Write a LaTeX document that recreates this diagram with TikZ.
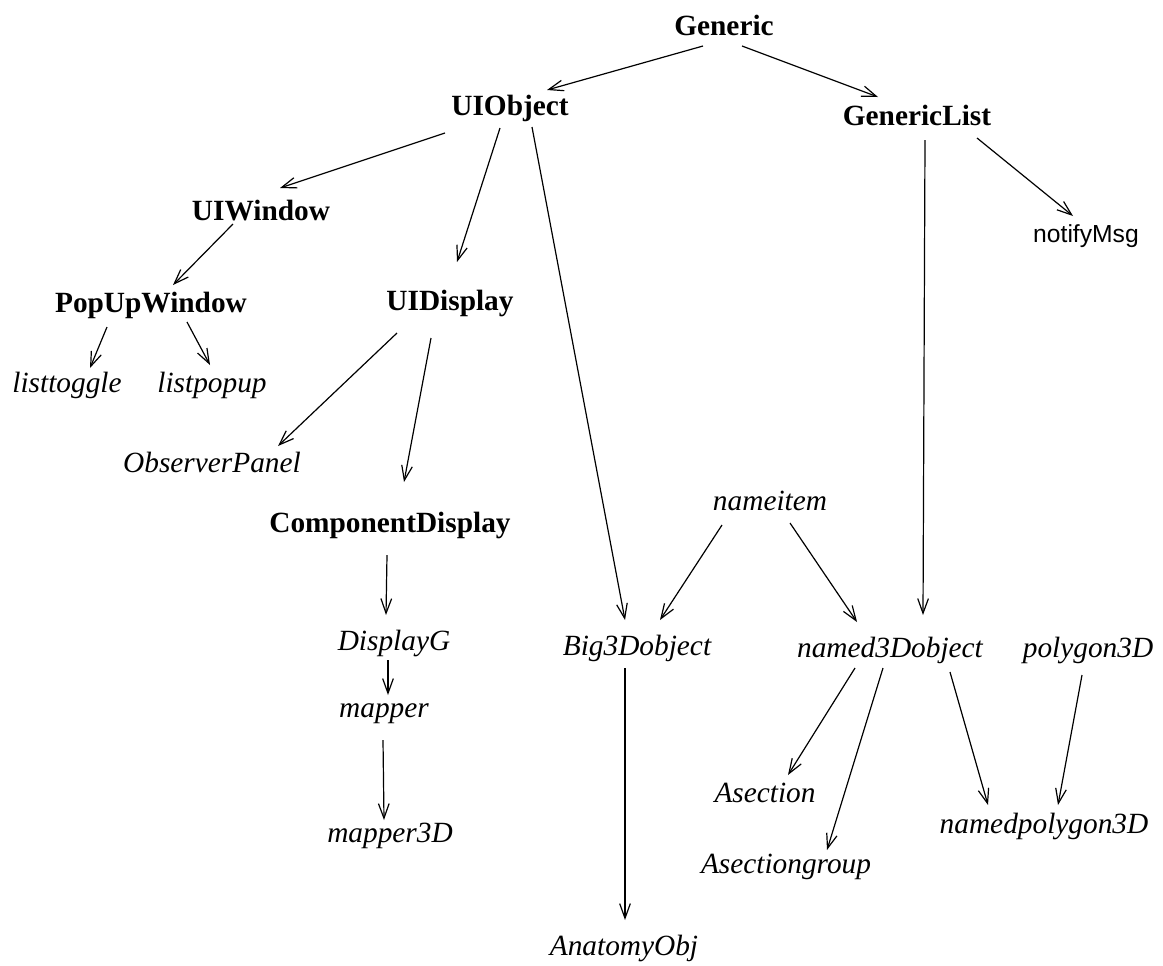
\documentclass[tikz,border=0pt]{standalone}
\usepackage{fontspec}
\setmainfont{Liberation Serif}
\newfontfamily\helv{Liberation Sans}
\usetikzlibrary{arrows.meta,calc}
\tikzset{
  bnode/.style={anchor=base,inner sep=0pt,font=\fontsize{22}{26}\selectfont\bfseries},
  inode/.style={anchor=base,inner sep=0pt,font=\fontsize{22}{26}\selectfont\itshape},
  snode/.style={anchor=base,inner sep=0pt,font=\fontsize{18.5}{22}\selectfont\helv},
  arr/.style={draw=black,line width=0.9pt,-{Straight Barb[length=11pt,width=8pt,line width=0.9pt]}}
}
\begin{document}
\begin{tikzpicture}[x=0.75pt,y=-0.75pt]
\useasboundingbox (0,0) rectangle (1163,965);
% nodes (base points)
\node[bnode] (gen) at (724,35) {Generic};
\node[bnode] (uio) at (510,115) {UIObject};
\node[bnode] (gl) at (917,125) {GenericList};
\node[bnode] (uiw) at (261,220) {UIWindow};
\node[snode] (nm) at (1086,242) {notifyMsg};
\node[bnode] (puw) at (151,312) {PopUpWindow};
\node[bnode] (uid) at (450,310) {UIDisplay};
\node[inode] (lt) at (67,392) {listtoggle};
\node[inode] (lp) at (212,392) {listpopup};
\node[inode] (op) at (212,472) {ObserverPanel};
\node[bnode] (cd) at (390,532) {ComponentDisplay};
\node[inode] (ni) at (770,510) {nameitem};
\node[inode] (dg) at (394,650) {DisplayG};
\node[inode] (b3) at (637,655) {Big3Dobject};
\node[inode] (n3) at (890,657) {named3Dobject};
\node[inode] (p3) at (1088,657) {polygon3D};
\node[inode] (mp) at (384,717) {mapper};
\node[inode] (as) at (765,802) {Asection};
\node[inode] (np) at (1044,833) {namedpolygon3D};
\node[inode] (m3) at (390,842) {mapper3D};
\node[inode] (ag) at (786,873) {Asectiongroup};
\node[inode] (ao) at (624,955) {AnatomyObj};
% connectors
\draw[arr] ($(gen.base)+(-21,11)$) -- ($(uio.base)+(37,-25)$);
\draw[arr] ($(gen.base)+(18,11)$) -- ($(gl.base)+(-39,-28)$);
\draw[arr] ($(uio.base)+(-65,18)$) -- ($(uiw.base)+(19,-32)$);
\draw[arr] ($(uio.base)+(-10,13)$) -- ($(uid.base)+(7,-48)$);
\draw[arr] ($(uio.base)+(22,12)$) -- ($(b3.base)+(-12,-35)$);
\draw[arr] ($(gl.base)+(8,15)$) -- ($(n3.base)+(33,-42)$);
\draw[arr] ($(gl.base)+(60,13)$) -- ($(nm.base)+(-13,-26)$);
\draw[arr] ($(uiw.base)+(-28,4)$) -- ($(puw.base)+(22,-27)$);
\draw[arr] ($(puw.base)+(-44,15)$) -- ($(lt.base)+(23,-24)$);
\draw[arr] ($(puw.base)+(36,10)$) -- ($(lp.base)+(-2,-27)$);
\draw[arr] ($(uid.base)+(-53,23)$) -- ($(op.base)+(66,-26)$);
\draw[arr] ($(uid.base)+(-19,28)$) -- ($(cd.base)+(14,-50)$);
\draw[arr] ($(cd.base)+(-3,23)$) -- ($(dg.base)+(-8,-35)$);
\draw[arr] ($(dg.base)+(-6,10)$) -- ($(mp.base)+(4,-22)$);
\draw[arr] ($(mp.base)+(-1,23)$) -- ($(m3.base)+(-6,-22)$);
\draw[arr] ($(ni.base)+(-48,15)$) -- ($(b3.base)+(23,-35)$);
\draw[arr] ($(ni.base)+(20,13)$) -- ($(n3.base)+(-33,-35)$);
\draw[arr] ($(b3.base)+(-12,13)$) -- ($(ao.base)+(1,-35)$);
\draw[arr] ($(n3.base)+(-35,11)$) -- ($(as.base)+(23,-27)$);
\draw[arr] ($(n3.base)+(-7,11)$) -- ($(ag.base)+(41,-23)$);
\draw[arr] ($(n3.base)+(60,15)$) -- ($(np.base)+(-56,-28)$);
\draw[arr] ($(p3.base)+(-6,18)$) -- ($(np.base)+(14,-28)$);
\end{tikzpicture}
\end{document}
